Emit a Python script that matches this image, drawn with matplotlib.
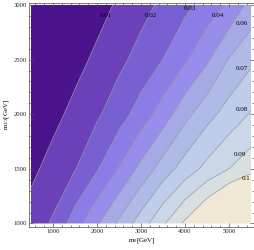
import numpy as np
import matplotlib
matplotlib.use('Agg')
import matplotlib.pyplot as plt
from matplotlib.ticker import MultipleLocator

# grid (m0 across, m1/2 down the rows)
m0 = [500, 1000, 1500, 2000, 2500, 3000, 3500, 4000, 4500, 5000, 5500]
m12 = [1000, 1500, 2000, 2500, 3000]

val_1000 = [0.0144, 0.0213, 0.0350, 0.0488, 0.0618, 0.0750, 0.0887, 0.1018, 0.1147, 0.1277, 0.1406]
val_1500 = [0.0077, 0.0136, 0.0195, 0.0291, 0.0404, 0.0529, 0.0646, 0.0745, 0.0829, 0.0900, 0.0961]
val_2000 = [0.0020, 0.0072, 0.0128, 0.0185, 0.0258, 0.0344, 0.0447, 0.0569, 0.0665, 0.0742, 0.0808]
val_2500 = [0.0000, 0.0013, 0.0067, 0.0121, 0.0176, 0.0236, 0.0301, 0.0384, 0.0483, 0.0605, 0.0679]
val_3000 = [0.0000, 0.0000, 0.0010, 0.0062, 0.0115, 0.0167, 0.0220, 0.0275, 0.0341, 0.0418, 0.0535]

levels = [0.01, 0.02, 0.03, 0.04, 0.05, 0.06, 0.07, 0.08, 0.09, 0.1]
band_colors = ['#4b148c', '#6a41b9', '#785fd2', '#8c7de6', '#978deb', '#a5a9e6',
               '#b0bae6', '#bfcdeb', '#c9d7e6', '#d8dfe1', '#f0e8d4']

# contour labels shown in the picture and where they sit
label_text = ['0.01', '0.02', '0.03', '0.04', '0.06', '0.07', '0.08', '0.09', '0.1']
label_m0 = [2205, 3228, 4114, 4751, 5300, 5300, 5300, 5250, 5400]
label_m12 = [2908, 2908, 2972, 2908, 2826, 2423, 2039, 1627, 1416]

plt.rcParams['font.family'] = ['Liberation Serif', 'DejaVu Serif']
plt.rcParams['mathtext.fontset'] = 'stix'

fig = plt.figure(figsize=(2.55, 2.5), dpi=100)
ax = fig.add_axes([29 / 255, 23.5 / 250, 225 / 255, 223.5 / 250])

X, Y = np.meshgrid(m0, m12)
Z = np.array([val_1000, val_1500, val_2000, val_2500, val_3000])

ax.contourf(X, Y, Z, levels=[-1.0] + levels + [1.0], colors=band_colors, antialiased=True)
ax.contour(X, Y, Z, levels=levels, colors='#8a8a8a', linewidths=0.6, alpha=0.7)
for txt, lx, ly in zip(label_text, label_m0, label_m12):
    ax.text(lx, ly, txt, fontsize=5, color='black', ha='center', va='center')

ax.set_xlim(455, 5569)
ax.set_ylim(972.5, 3018)

ax.xaxis.set_major_locator(MultipleLocator(1000))
ax.xaxis.set_minor_locator(MultipleLocator(200))
ax.yaxis.set_major_locator(MultipleLocator(500))
ax.yaxis.set_minor_locator(MultipleLocator(100))
ax.tick_params(which='both', direction='in', top=True, right=True, colors='#555555',
               labelcolor='#222222', labelsize=4.8, width=0.5, pad=1.5)
ax.tick_params(which='major', length=3)
ax.tick_params(which='minor', length=1.5)
for s in ax.spines.values():
    s.set_color('#666666')
    s.set_linewidth(0.6)

ax.set_xlabel(r'$\mathregular{m_0}$[GeV]', fontsize=5, labelpad=2)
ax.set_ylabel(r'$\mathregular{m_{1/2}}$[GeV]', fontsize=5, labelpad=2)

fig.savefig('out.png', dpi=100)
